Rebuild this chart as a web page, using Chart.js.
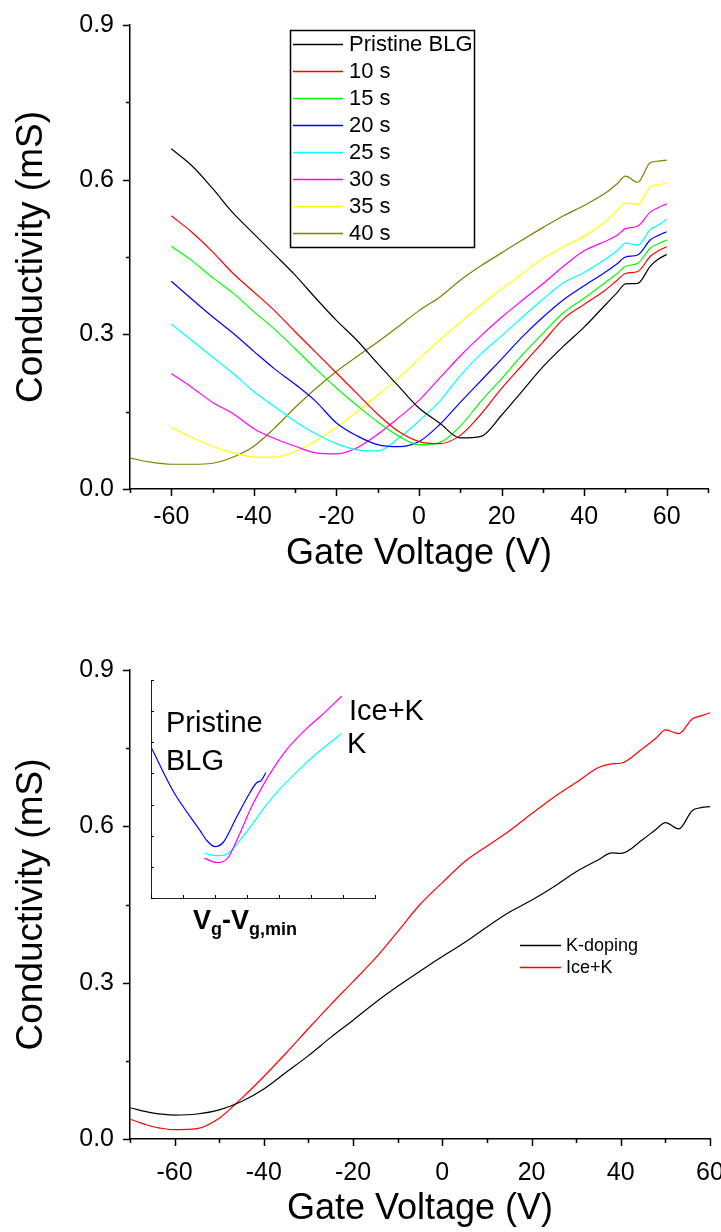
<!DOCTYPE html>
<html>
<head>
<meta charset="utf-8">
<script src="https://cdn.jsdelivr.net/npm/chart.js@4.4.1/dist/chart.umd.min.js"></script>
<style>
    html, body { margin: 0; padding: 0; background: #fff; }
    #page { position: relative; width: 721px; height: 1232px; overflow: hidden; background: #fff; }
    .holder { position: absolute; }
</style>
</head>
<body>
<div id="page">
    <div class="holder" style="left:0;top:0"><canvas id="topChart" width="721" height="616"></canvas></div>
    <div class="holder" style="left:0;top:616px"><canvas id="bottomChart" width="721" height="616"></canvas></div>
    <div class="holder" style="left:140px;top:640px"><canvas id="insetChart" width="300" height="320"></canvas></div>
</div>
<script>
// ---- top panel: conductivity vs gate voltage after each exposure time ----
const gateVoltage = [-70, -65, -60, -55, -50, -45, -40, -35, -30, -25, -20, -15, -10, -5, 0, 5, 10, 15, 20, 25, 30, 35, 40, 45, 48, 50, 53, 56, 58, 60];

const sigmaPristine = [null, null, 0.660, 0.627, 0.583, 0.535, 0.495, 0.455, 0.415, 0.370, 0.327, 0.288, 0.243, 0.200, 0.157, 0.128, 0.099, 0.102, 0.143, 0.190, 0.237, 0.277, 0.314, 0.356, 0.381, 0.398, 0.399, 0.432, 0.446, 0.455];
const sigma10s = [null, null, 0.530, 0.498, 0.460, 0.418, 0.382, 0.346, 0.305, 0.265, 0.225, 0.185, 0.145, 0.112, 0.092, 0.088, 0.104, 0.145, 0.195, 0.240, 0.285, 0.330, 0.358, 0.385, 0.405, 0.418, 0.422, 0.451, 0.462, 0.470];
const sigma15s = [null, null, 0.471, 0.443, 0.410, 0.380, 0.344, 0.310, 0.272, 0.233, 0.196, 0.162, 0.130, 0.103, 0.086, 0.090, 0.122, 0.170, 0.214, 0.260, 0.302, 0.342, 0.370, 0.400, 0.418, 0.432, 0.438, 0.467, 0.476, 0.483];
const sigma20s = [null, null, 0.403, 0.368, 0.334, 0.302, 0.267, 0.233, 0.203, 0.170, 0.128, 0.103, 0.086, 0.082, 0.092, 0.125, 0.168, 0.210, 0.252, 0.295, 0.333, 0.367, 0.394, 0.420, 0.437, 0.450, 0.454, 0.483, 0.492, 0.499];
const sigma25s = [null, null, 0.320, 0.288, 0.256, 0.224, 0.189, 0.160, 0.131, 0.107, 0.088, 0.076, 0.074, 0.098, 0.132, 0.170, 0.220, 0.262, 0.297, 0.333, 0.368, 0.400, 0.420, 0.445, 0.462, 0.477, 0.473, 0.503, 0.512, 0.523];
const sigma30s = [null, null, 0.224, 0.197, 0.168, 0.146, 0.117, 0.098, 0.083, 0.070, 0.068, 0.080, 0.106, 0.138, 0.172, 0.215, 0.258, 0.297, 0.333, 0.366, 0.398, 0.432, 0.462, 0.480, 0.492, 0.505, 0.510, 0.537, 0.546, 0.553];
const sigma35s = [null, null, 0.119, 0.100, 0.083, 0.070, 0.062, 0.062, 0.073, 0.093, 0.120, 0.150, 0.182, 0.215, 0.252, 0.289, 0.323, 0.357, 0.388, 0.418, 0.447, 0.470, 0.490, 0.518, 0.540, 0.555, 0.552, 0.586, 0.590, 0.594];
const sigma40s = [0.060, 0.052, 0.048, 0.048, 0.050, 0.062, 0.083, 0.118, 0.158, 0.195, 0.228, 0.257, 0.285, 0.315, 0.346, 0.372, 0.405, 0.433, 0.458, 0.483, 0.507, 0.530, 0.550, 0.573, 0.592, 0.607, 0.595, 0.633, 0.636, 0.638];

const topLabels = ["Pristine BLG", "10 s", "15 s", "20 s", "25 s", "30 s", "35 s", "40 s"];
const topSeries = [sigmaPristine, sigma10s, sigma15s, sigma20s, sigma25s, sigma30s, sigma35s, sigma40s];

// ---- bottom panel: K doping vs ice + K ----
const bottomVoltage = [-70, -65, -60, -55, -50, -45, -40, -35, -30, -25, -20, -15, -10, -5, 0, 5, 10, 15, 20, 25, 30, 35, 38, 40, 45, 48, 50, 53, 56, 58, 60];
const sigmaKDoping = [0.060, 0.050, 0.046, 0.048, 0.056, 0.072, 0.096, 0.128, 0.160, 0.195, 0.228, 0.262, 0.293, 0.322, 0.350, 0.377, 0.407, 0.435, 0.458, 0.484, 0.513, 0.536, 0.549, 0.548, 0.575, 0.595, 0.607, 0.595, 0.630, 0.636, 0.638];
const sigmaIceK = [0.038, 0.024, 0.018, 0.020, 0.040, 0.078, 0.120, 0.165, 0.212, 0.258, 0.302, 0.347, 0.398, 0.450, 0.492, 0.532, 0.562, 0.591, 0.624, 0.656, 0.684, 0.713, 0.720, 0.721, 0.750, 0.770, 0.785, 0.778, 0.806, 0.812, 0.818];
const bottomLabels = ["K-doping", "Ice+K"];

// ---- inset: curves vs Vg - Vg,min (arbitrary units) ----
const insetBlgX = [0, 0.70, 1.53, 1.74, 2.00, 2.26, 2.68, 3.09, 3.30, 3.45, 3.59];
const insetBlgY = [4.85, 3.42, 2.17, 1.85, 1.65, 1.79, 2.61, 3.38, 3.70, 3.78, 4.03];
const insetIceKX = [1.67, 2.05, 2.37, 2.68, 3.20, 4.13, 4.86, 5.28, 5.96];
const insetIceKY = [1.28, 1.14, 1.25, 1.85, 3.05, 4.62, 5.44, 5.82, 6.48];
const insetKX = [1.67, 2.05, 2.37, 2.78, 3.82, 4.86, 5.28, 5.96];
const insetKY = [1.43, 1.36, 1.41, 1.85, 3.26, 4.35, 4.73, 5.28];

// tick positions
const xMajorTop = [-60, -40, -20, 0, 20, 40, 60];
const xMinorTop = [-70, -50, -30, -10, 10, 30, 50, 70];
const xMajorBottom = [-60, -40, -20, 0, 20, 40, 60];
const xMinorBottom = [-70, -50, -30, -10, 10, 30, 50];
const yMajor = [0, 0.3, 0.6, 0.9];
const yMinor = [0.15, 0.45, 0.75];
const insetTicks = [0, 1, 2, 3, 4, 5, 6, 7];

// styles
const topColours = ["#000000", "#ff0000", "#00ff00", "#0000ff", "#00ffff", "#ff00ff", "#ffff00", "#808000"];
const bottomColours = ["#000000", "#ff0000"];
const FONT = "'Liberation Sans', Arial, Helvetica, sans-serif";

Chart.defaults.color = "#000";
Chart.defaults.font.family = FONT;

const toPoints = (xs, ys) =>
{
    return xs.map((x, i) => ({x: x, y: ys[i]})).filter(p => p.y !== null);
};

const lineDataset = (label, points, colour) =>
{
    return {
        label: label,
        data: points,
        borderColor: colour,
        backgroundColor: colour,
        borderWidth: 1.2,
        pointRadius: 0,
        fill: false,
        cubicInterpolationMode: "monotone"
    };
};

// tick marks drawn on the axes, majors longer than minors
const axisTicks = {
    id: "axisTicks",
    afterDatasetsDraw(chart, args, opts)
    {
        const {ctx, chartArea, scales} = chart;
        const dir = opts.inward ? -1 : 1;
        ctx.save();
        ctx.strokeStyle = "#000";
        ctx.lineWidth = opts.lineWidth;
        ctx.beginPath();
        const markX = (values, len) =>
        {
            values.forEach(v =>
            {
                const px = Math.round(scales.x.getPixelForValue(v)) + 0.5;
                ctx.moveTo(px, chartArea.bottom);
                ctx.lineTo(px, chartArea.bottom + dir * len);
            });
        };
        const markY = (values, len) =>
        {
            values.forEach(v =>
            {
                const py = Math.round(scales.y.getPixelForValue(v)) + 0.5;
                ctx.moveTo(chartArea.left, py);
                ctx.lineTo(chartArea.left - dir * len, py);
            });
        };
        markX(opts.xMajor, opts.major);
        markX(opts.xMinor, opts.minor);
        markY(opts.yMajor, opts.major);
        markY(opts.yMinor, opts.minor);
        ctx.stroke();
        ctx.restore();
    }
};

// legend with short line samples, optional frame
const lineLegend = {
    id: "lineLegend",
    afterDraw(chart, args, opts)
    {
        const ctx = chart.ctx;
        ctx.save();
        if (opts.frame)
        {
            const f = opts.frame;
            ctx.fillStyle = "#fff";
            ctx.fillRect(f.x, f.y, f.w, f.h);
            ctx.strokeStyle = "#000";
            ctx.lineWidth = 1.5;
            ctx.strokeRect(f.x, f.y, f.w, f.h);
        }
        ctx.font = opts.fontSize + "px " + FONT;
        ctx.textBaseline = "middle";
        ctx.fillStyle = "#000";
        chart.data.datasets.forEach((ds, i) =>
        {
            const y = opts.top + i * opts.rowHeight;
            ctx.strokeStyle = ds.borderColor;
            ctx.lineWidth = 1.3;
            ctx.beginPath();
            ctx.moveTo(opts.lineStart, y + 0.5);
            ctx.lineTo(opts.lineEnd, y + 0.5);
            ctx.stroke();
            ctx.fillText(ds.label, opts.textX, y + 1);
        });
        ctx.restore();
    }
};

// free text inside the inset, with subscripts
const insetText = {
    id: "insetText",
    afterDraw(chart, args, opts)
    {
        const ctx = chart.ctx;
        ctx.save();
        ctx.fillStyle = "#000";
        ctx.textBaseline = "alphabetic";
        ctx.font = opts.labelSize + "px " + FONT;
        opts.labels.forEach(l => ctx.fillText(l.text, l.x, l.y));

        let x = opts.axisLabel.x;
        const base = opts.axisLabel.y;
        opts.axisLabel.parts.forEach(p =>
        {
            ctx.font = "bold " + (p.sub ? opts.subSize : opts.mainSize) + "px " + FONT;
            ctx.fillText(p.text, x, p.sub ? base + 6 : base);
            x += ctx.measureText(p.text).width;
        });
        ctx.restore();
    }
};

const axisFont = {size: 25};

const mainScales = (xMin, xMax, xMajor, xHeight, tickPad, titlePad) =>
{
    return {
        x: {
            type: "linear",
            min: xMin,
            max: xMax,
            grid: {display: false},
            border: {display: true, color: "#000", width: 1.5},
            ticks: {font: axisFont, color: "#000", padding: tickPad, maxRotation: 0, autoSkip: false},
            afterBuildTicks: (scale) => { scale.ticks = xMajor.map(v => ({value: v})); },
            afterFit: (scale) => { scale.height = xHeight; scale.paddingLeft = 0; scale.paddingRight = 0; },
            title: {display: true, text: "Gate Voltage (V)", color: "#000", font: {size: 36}, padding: {top: 0, bottom: titlePad}}
        },
        y: {
            type: "linear",
            min: 0,
            max: 0.9,
            grid: {display: false},
            border: {display: true, color: "#000", width: 1.5},
            ticks: {font: axisFont, color: "#000", padding: 8, callback: (v) => v.toFixed(1)},
            afterBuildTicks: (scale) => { scale.ticks = yMajor.map(v => ({value: v})); },
            afterFit: (scale) => { scale.width = 130; scale.paddingTop = 0; scale.paddingBottom = 0; },
            title: {display: true, text: "Conductivity (mS)", color: "#000", font: {size: 37}, padding: {top: 10, bottom: 0}}
        }
    };
};

new Chart(document.getElementById("topChart"), {
    type: "line",
    data: {
        datasets: topLabels.map((label, i) => lineDataset(label, toPoints(gateVoltage, topSeries[i]), topColours[i]))
    },
    options: {
        responsive: false,
        animation: false,
        layout: {padding: {left: 0, right: 13, top: 25, bottom: 0}},
        plugins: {
            legend: {display: false},
            tooltip: {enabled: false},
            axisTicks: {xMajor: xMajorTop, xMinor: xMinorTop, yMajor: yMajor, yMinor: yMinor, major: 7, minor: 4, lineWidth: 1.5, inward: false},
            lineLegend: {frame: {x: 290.5, y: 30.5, w: 184, h: 217}, top: 44, rowHeight: 27, lineStart: 293, lineEnd: 343, textX: 349, fontSize: 22}
        },
        scales: mainScales(-70, 70, xMajorTop, 127, 5, 40)
    },
    plugins: [axisTicks, lineLegend]
});

new Chart(document.getElementById("bottomChart"), {
    type: "line",
    data: {
        datasets: [
            lineDataset(bottomLabels[0], toPoints(bottomVoltage, sigmaKDoping), bottomColours[0]),
            lineDataset(bottomLabels[1], toPoints(bottomVoltage, sigmaIceK), bottomColours[1])
        ]
    },
    options: {
        responsive: false,
        animation: false,
        layout: {padding: {left: 0, right: 11, top: 54, bottom: 0}},
        plugins: {
            legend: {display: false},
            tooltip: {enabled: false},
            axisTicks: {xMajor: xMajorBottom, xMinor: xMinorBottom, yMajor: yMajor, yMinor: yMinor, major: 7, minor: 4, lineWidth: 1.5, inward: false},
            lineLegend: {frame: null, top: 329, rowHeight: 22, lineStart: 520, lineEnd: 561, textX: 566, fontSize: 18}
        },
        scales: mainScales(-70, 60, xMajorBottom, 93, 11, 1)
    },
    plugins: [axisTicks, lineLegend]
});

new Chart(document.getElementById("insetChart"), {
    type: "line",
    data: {
        datasets: [
            lineDataset("Pristine BLG", toPoints(insetBlgX, insetBlgY), "#0000ff"),
            lineDataset("Ice+K", toPoints(insetIceKX, insetIceKY), "#ff00ff"),
            lineDataset("K", toPoints(insetKX, insetKY), "#00ffff")
        ]
    },
    options: {
        responsive: false,
        animation: false,
        layout: {padding: {left: 11, right: 65, top: 40, bottom: 62}},
        plugins: {
            legend: {display: false},
            tooltip: {enabled: false},
            axisTicks: {xMajor: insetTicks, xMinor: [], yMajor: insetTicks, yMinor: [], major: 3, minor: 0, lineWidth: 1, inward: true},
            insetText: {
                labelSize: 29,
                labels: [
                    {text: "Pristine", x: 26, y: 92},
                    {text: "BLG", x: 26, y: 130},
                    {text: "Ice+K", x: 209, y: 80},
                    {text: "K", x: 207, y: 113}
                ],
                mainSize: 27,
                subSize: 18,
                axisLabel: {
                    x: 53, y: 289,
                    parts: [{text: "V", sub: false}, {text: "g", sub: true}, {text: "-V", sub: false}, {text: "g,min", sub: true}]
                }
            }
        },
        scales: {
            x: {
                type: "linear", min: 0, max: 7,
                grid: {display: false},
                ticks: {display: false},
                border: {display: true, color: "#222", width: 1},
                afterFit: (scale) => { scale.height = 0; scale.paddingLeft = 0; scale.paddingRight = 0; }
            },
            y: {
                type: "linear", min: 0, max: 7,
                grid: {display: false},
                ticks: {display: false},
                border: {display: true, color: "#222", width: 1},
                afterFit: (scale) => { scale.width = 0; scale.paddingTop = 0; scale.paddingBottom = 0; }
            }
        }
    },
    plugins: [axisTicks, insetText]
});
</script>
</body>
</html>
